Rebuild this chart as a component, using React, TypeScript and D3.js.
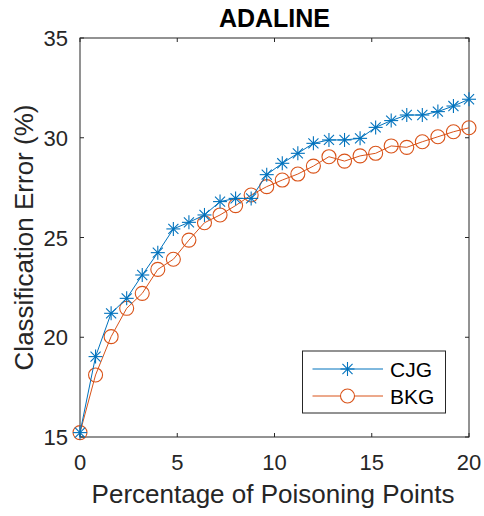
import React from "react";
import * as d3 from "d3";

const xValues = [0, 0.8, 1.6, 2.4, 3.2, 4.0, 4.8, 5.6, 6.4, 7.2, 8.0, 8.8, 9.6, 10.4, 11.2, 12.0, 12.8, 13.6, 14.4, 15.2, 16.0, 16.8, 17.6, 18.4, 19.2, 20.0];
const cjg = [15.22, 19.03, 21.2, 21.95, 23.12, 24.24, 25.43, 25.76, 26.13, 26.8, 26.96, 26.96, 28.15, 28.72, 29.22, 29.72, 29.89, 29.89, 29.97, 30.52, 30.86, 31.14, 31.14, 31.31, 31.59, 31.93];
const bkg = [15.22, 18.11, 20.03, 21.45, 22.2, 23.4, 23.91, 24.87, 25.74, 26.13, 26.6, 27.13, 27.55, 27.88, 28.18, 28.58, 29.05, 28.83, 29.09, 29.22, 29.59, 29.52, 29.8, 30.05, 30.3, 30.5];
const xTicks = [0, 5, 10, 15, 20];
const yTicks = [15, 20, 25, 30, 35];
const seriesNames = ["CJG", "BKG"];

const BLUE = "#0072BD";
const ORANGE = "#D95319";
const AX = "#262626";
const FONT = "'Liberation Sans', Arial, Helvetica, sans-serif";

function Star({ cx, cy, color }: { cx: number; cy: number; color: string }) {
  const r = 7;
  const d = r * 0.72;
  return (
    <g stroke={color} strokeWidth={1.1}>
      <line x1={cx - r} y1={cy} x2={cx + r} y2={cy} />
      <line x1={cx} y1={cy - r} x2={cx} y2={cy + r} />
      <line x1={cx - d} y1={cy - d} x2={cx + d} y2={cy + d} />
      <line x1={cx - d} y1={cy + d} x2={cx + d} y2={cy - d} />
    </g>
  );
}

export default function App() {
  const W = 484, H = 516;
  const left = 80, right = 469, top = 38, bottom = 437;
  const x = d3.scaleLinear().domain([0, 20]).range([left, right]);
  const y = d3.scaleLinear().domain([15, 35]).range([bottom, top]);
  const line = d3.line<number>().x((_, i) => x(xValues[i])).y((v) => y(v));
  const tk = 4;

  const legX = 302.5, legY = 351, legW = 143, legH = 62;
  const rows = [369, 396];

  return (
    <svg width={W} height={H} style={{ position: "absolute", left: 0, top: 0 }} fontFamily={FONT}>
      <rect x={0} y={0} width={W} height={H} fill="#fff" />
      {xTicks.map((t) => (
        <g key={"xt" + t} stroke={AX} strokeWidth={1}>
          <line x1={x(t)} x2={x(t)} y1={bottom} y2={bottom - tk} />
          <line x1={x(t)} x2={x(t)} y1={top} y2={top + tk} />
        </g>
      ))}
      {yTicks.map((t) => (
        <g key={"yt" + t} stroke={AX} strokeWidth={1}>
          <line x1={left} x2={left + tk} y1={y(t)} y2={y(t)} />
          <line x1={right} x2={right - tk} y1={y(t)} y2={y(t)} />
        </g>
      ))}
      <rect x={left} y={top} width={right - left} height={bottom - top} fill="none" stroke={AX} strokeWidth={1} />
      {xTicks.map((t) => (
        <text key={"xl" + t} x={x(t)} y={470} textAnchor="middle" fontSize={22} fill={AX}>{t}</text>
      ))}
      {yTicks.map((t) => (
        <text key={"yl" + t} x={68} y={y(t) + 8} textAnchor="end" fontSize={22} fill={AX}>{t}</text>
      ))}
      <text x={273} y={503} textAnchor="middle" fontSize={26} fill={AX}>Percentage of Poisoning Points</text>
      <text transform={`translate(33,${(top + bottom) / 2}) rotate(-90)`} textAnchor="middle" fontSize={26} fill={AX}>Classification Error (%)</text>
      <text x={(left + right) / 2} y={27} textAnchor="middle" fontSize={25} fontWeight="bold" fill="#000">ADALINE</text>

      <path d={line(bkg) || ""} fill="none" stroke={ORANGE} strokeWidth={1} />
      {bkg.map((v, i) => (
        <circle key={"b" + i} cx={x(xValues[i])} cy={y(v)} r={7} fill="none" stroke={ORANGE} strokeWidth={1.1} />
      ))}
      <path d={line(cjg) || ""} fill="none" stroke={BLUE} strokeWidth={1} />
      {cjg.map((v, i) => (
        <Star key={"c" + i} cx={x(xValues[i])} cy={y(v)} color={BLUE} />
      ))}

      <rect x={legX} y={legY} width={legW} height={legH} fill="#fff" stroke={AX} strokeWidth={1} />
      {seriesNames.map((n, i) => {
        const c = i === 0 ? BLUE : ORANGE;
        return (
          <g key={n}>
            <line x1={312.5} x2={383} y1={rows[i]} y2={rows[i]} stroke={c} strokeWidth={1} />
            {i === 0 ? <Star cx={347.5} cy={rows[i]} color={c} /> : <circle cx={347.5} cy={rows[i]} r={7} fill="#fff" stroke={c} strokeWidth={1.1} />}
            <text x={390} y={rows[i] + 7.5} fontSize={21} fill="#000">{n}</text>
          </g>
        );
      })}
    </svg>
  );
}
